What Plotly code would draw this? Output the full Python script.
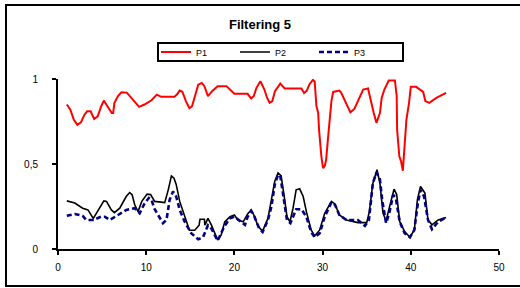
import plotly.graph_objects as go

# ---- data ----
p1_x = [1.0, 1.4, 1.8, 2.2, 2.6, 3.0, 3.3, 3.7, 4.1, 4.5,
        4.9, 5.2, 5.6, 6.1, 6.25, 6.4, 6.8, 7.2, 7.8, 8.5,
        9.2, 9.8, 10.6, 11.2, 11.7, 13.2, 13.5, 13.8, 14.1, 14.5,
        14.9, 15.2, 15.5, 15.9, 16.3, 16.6, 17.0, 17.5, 18.1, 19.1,
        20.0, 21.5, 21.9, 22.2, 22.5, 22.95, 23.4, 23.7, 24.0, 24.3,
        24.6, 25.2, 25.7, 27.6, 27.9, 28.2, 28.5, 28.9, 29.1, 29.3,
        29.5, 29.6, 29.86, 30.05, 30.25, 30.4, 30.6, 30.8, 31.0, 31.2,
        31.9, 32.1, 32.6, 33.15, 33.6, 34.1, 34.6, 35.15, 35.5, 35.8,
        36.1, 36.5, 36.7, 37.0, 37.5, 38.2, 38.4, 38.45, 38.7, 38.9,
        39.1, 39.3, 39.5, 39.8, 40.0, 40.6, 41.4, 41.65, 42.1, 42.9,
        44.0]
p1_y = [.85, .82, .76, .73, .745, .79, .81, .81, .765, .78,
        .84, .873, .84, .80, .80, .86, .90, .922, .92, .88,
        .836, .85, .875, .908, .895, .895, .91, .932, .925, .87,
        .828, .84, .90, .967, .977, .958, .899, .93, .958, .958,
        .913, .913, .885, .90, .948, .987, .938, .89, .86, .87,
        .928, .973, .944, .944, .918, .93, .968, .995, .985, .84,
        .80, .70, .545, .476, .49, .525, .643, .76, .87, .924,
        .932, .92, .86, .804, .824, .88, .938, .944, .86, .80,
        .742, .80, .889, .938, .991, .991, .9, .70, .545, .515,
        .46, .60, .76, .86, .954, .954, .924, .87, .86, .889,
        .918]

p2_x = [1.0, 1.9, 2.8, 3.4, 4.0, 4.5, 5.2, 5.5, 6.05, 6.4,
        7.0, 7.75, 8.13, 8.4, 8.7, 9.07, 9.5, 10.1, 10.5, 10.96,
        12.1, 12.5, 12.86, 13.15, 13.4, 13.8, 14.36, 14.9, 15.5, 16.0,
        16.1, 16.6, 16.65, 17.0, 17.4, 18.1, 18.5, 18.9, 19.5, 20.0,
        20.4, 21.0, 21.5, 21.9, 22.2, 22.7, 23.2, 23.8, 24.2, 24.57,
        24.95, 25.3, 25.7, 25.96, 26.3, 26.65, 27.0, 27.4, 27.8, 28.16,
        28.7, 29.1, 29.67, 30.24, 31.0, 31.4, 31.9, 32.7, 34.0, 35.0,
        35.3, 35.7, 36.17, 36.5, 36.85, 37.2, 37.6, 38.1, 38.4, 38.74,
        39.3, 39.9, 40.4, 40.75, 41.1, 41.6, 41.95, 42.4, 43.1, 44.0]
p2_y = [.283, .27, .24, .23, .18, .22, .283, .28, .23, .214,
        .24, .31, .332, .32, .26, .22, .28, .323, .32, .28,
        .273, .348, .43, .417, .38, .28, .19, .11, .11, .14,
        .175, .175, .14, .18, .14, .053, .083, .16, .19, .20,
        .17, .16, .206, .23, .20, .132, .106, .18, .29, .397,
        .447, .43, .29, .19, .16, .24, .348, .354, .309, .22,
        .112, .077, .112, .21, .28, .265, .20, .171, .155, .155,
        .22, .387, .466, .387, .21, .167, .25, .352, .32, .161,
        .102, .069, .112, .29, .368, .329, .171, .142, .171, .185]

p3_x = [1.0, 1.9, 2.8, 3.2, 4.0, 4.9, 5.3, 5.86, 6.8, 7.75,
        8.7, 9.26, 9.83, 10.3, 10.6, 10.9, 11.35, 11.9, 12.3, 12.66,
        13.04, 13.4, 13.8, 14.36, 15.1, 15.9, 16.45, 17.0, 17.4, 18.1,
        18.9, 19.5, 20.0, 20.6, 21.2, 21.5, 21.9, 22.2, 22.8, 23.2,
        23.8, 24.2, 24.57, 24.95, 25.2, 25.5, 25.96, 26.35, 26.7, 27.0,
        27.6, 28.16, 28.7, 29.1, 29.67, 30.24, 31.0, 31.4, 31.9, 32.7,
        34.0, 34.8, 35.25, 35.7, 36.1, 36.5, 36.75, 37.2, 37.6, 38.0,
        38.3, 38.74, 39.3, 39.9, 40.4, 40.8, 41.1, 41.5, 41.95, 42.4,
        43.1, 44.0]
p3_y = [.195, .206, .195, .171, .171, .19, .19, .171, .20, .23,
        .24, .21, .27, .30, .29, .24, .20, .152, .171, .29,
        .338, .309, .23, .161, .093, .057, .07, .14, .12, .049,
        .137, .18, .19, .165, .142, .19, .224, .20, .122, .10,
        .17, .25, .378, .437, .43, .329, .17, .152, .20, .234,
        .234, .19, .10, .069, .093, .19, .275, .26, .20, .171,
        .171, .136, .17, .387, .45, .41, .29, .152, .22, .318,
        .30, .161, .093, .069, .112, .27, .348, .31, .171, .116,
        .16, .185]

series_names = ["P1", "P2", "P3"]
title_text = "Filtering 5"
x_ticks = [0, 10, 20, 30, 40, 50]
y_ticks = [0, 0.5, 1]
y_ticktext = ["0", "0,5", "1"]

assert len(p1_x) == len(p1_y)
assert len(p2_x) == len(p2_y)
assert len(p3_x) == len(p3_y)

FONT = "Arial, 'Liberation Sans', sans-serif"

# plot-area geometry (pixels) used to place paper-referenced items
L, R, T, B = 58, 499, 79, 249
PW, PH = R - L, B - T


def px_x(p):
    return (p - L) / PW


def px_y(p):
    return (B - p) / PH


fig = go.Figure()
fig.add_trace(go.Scatter(x=p1_x, y=p1_y, name=series_names[0], mode="lines",
                         line=dict(color="#FF0000", width=2)))
fig.add_trace(go.Scatter(x=p2_x, y=p2_y, name=series_names[1], mode="lines",
                         line=dict(color="#000000", width=1.6)))
fig.add_trace(go.Scatter(x=p3_x, y=p3_y, name=series_names[2], mode="lines",
                         line=dict(color="#000080", width=2.6, dash="5px,3px")))

fig.update_layout(
    width=520, height=288,
    margin=dict(l=L, r=520 - R, t=T, b=288 - B, pad=0),
    paper_bgcolor="white", plot_bgcolor="white",
    font=dict(family=FONT, size=10, color="black"),
    separators=", ",
    title=dict(text="<b>" + title_text + "</b>", x=0.5, xanchor="center",
               y=1 - 24 / 288, yanchor="middle",
               font=dict(family=FONT, size=13, color="black")),
    showlegend=True,
    legend=dict(orientation="h", x=px_x(156), xanchor="left",
                y=px_y(52), yanchor="middle",
                bgcolor="rgba(0,0,0,0)", borderwidth=0,
                font=dict(family=FONT, size=9, color="black"),
                itemwidth=30, entrywidth=34, entrywidthmode="pixels"),
    xaxis=dict(range=[0, 50], tickvals=x_ticks, showgrid=False, zeroline=False,
               showline=True, linecolor="black", linewidth=2,
               ticks="outside", ticklen=4, tickwidth=1.5, tickcolor="black",
               ticklabelstandoff=4, tickfont=dict(size=10)),
    yaxis=dict(range=[0, 1], tickvals=y_ticks, ticktext=y_ticktext,
               showgrid=False, zeroline=False,
               showline=True, linecolor="black", linewidth=2,
               ticks="outside", ticklen=4, tickwidth=1.5, tickcolor="black",
               ticklabelstandoff=12, tickfont=dict(size=10)),
    shapes=[
        # outer chart frame (right edge lies beyond the canvas)
        dict(type="rect", xref="paper", yref="paper",
             x0=px_x(6), x1=px_x(530), y0=px_y(286), y1=px_y(5),
             line=dict(color="black", width=2), fillcolor="rgba(0,0,0,0)",
             layer="below"),
        # legend box
        dict(type="rect", xref="paper", yref="paper",
             x0=px_x(158), x1=px_x(403), y0=px_y(61), y1=px_y(43),
             line=dict(color="black", width=2), fillcolor="white",
             layer="below"),
    ],
)

fig.write_html("out.html", config={"displayModeBar": False},
               post_script="document.body.style.margin='0';")
